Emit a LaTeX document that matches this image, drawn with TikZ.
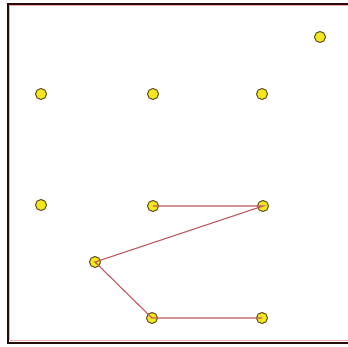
\documentclass[tikz,border=0pt]{standalone}
\definecolor{dotfill}{RGB}{245,230,30}
\definecolor{dotline}{RGB}{90,80,30}
\definecolor{segcol}{RGB}{190,90,95}
\definecolor{framecol}{RGB}{40,10,10}
\definecolor{framein}{RGB}{240,170,175}
\begin{document}
\begin{tikzpicture}[x=1pt,y=-1pt,
  dot/.style={circle,draw=dotline,fill=dotfill,line width=1pt,minimum size=11pt,inner sep=0pt},
  seg/.style={draw=segcol,line width=1.1pt}]
\useasboundingbox (0,0) rectangle (348,346);
\fill[white] (0,0) rectangle (348,346);
\draw[framein,line width=1pt] (9.5,340) -- (348,340);
\draw[framein,line width=1pt] (9.5,340) -- (9.5,5.5) -- (348,5.5);
\draw[framecol,line width=2pt] (348,3.5) -- (7.5,3.5) -- (7.5,342.5) -- (348,342.5);
\node[dot] (p1) at (320,37) {};
\node[dot] (a1) at (41,94) {};
\node[dot] (a2) at (153,94) {};
\node[dot] (a3) at (262,94) {};
\node[dot] (b1) at (41,205) {};
\node[dot] (b2) at (153,206) {};
\node[dot] (b3) at (263,206) {};
\node[dot] (c1) at (95,262) {};
\node[dot] (d1) at (152,318) {};
\node[dot] (d2) at (262,318) {};
\draw[seg] (b2.center) -- (b3.center) -- (c1.center) -- (d1.center) -- (d2.center);
\end{tikzpicture}
\end{document}
